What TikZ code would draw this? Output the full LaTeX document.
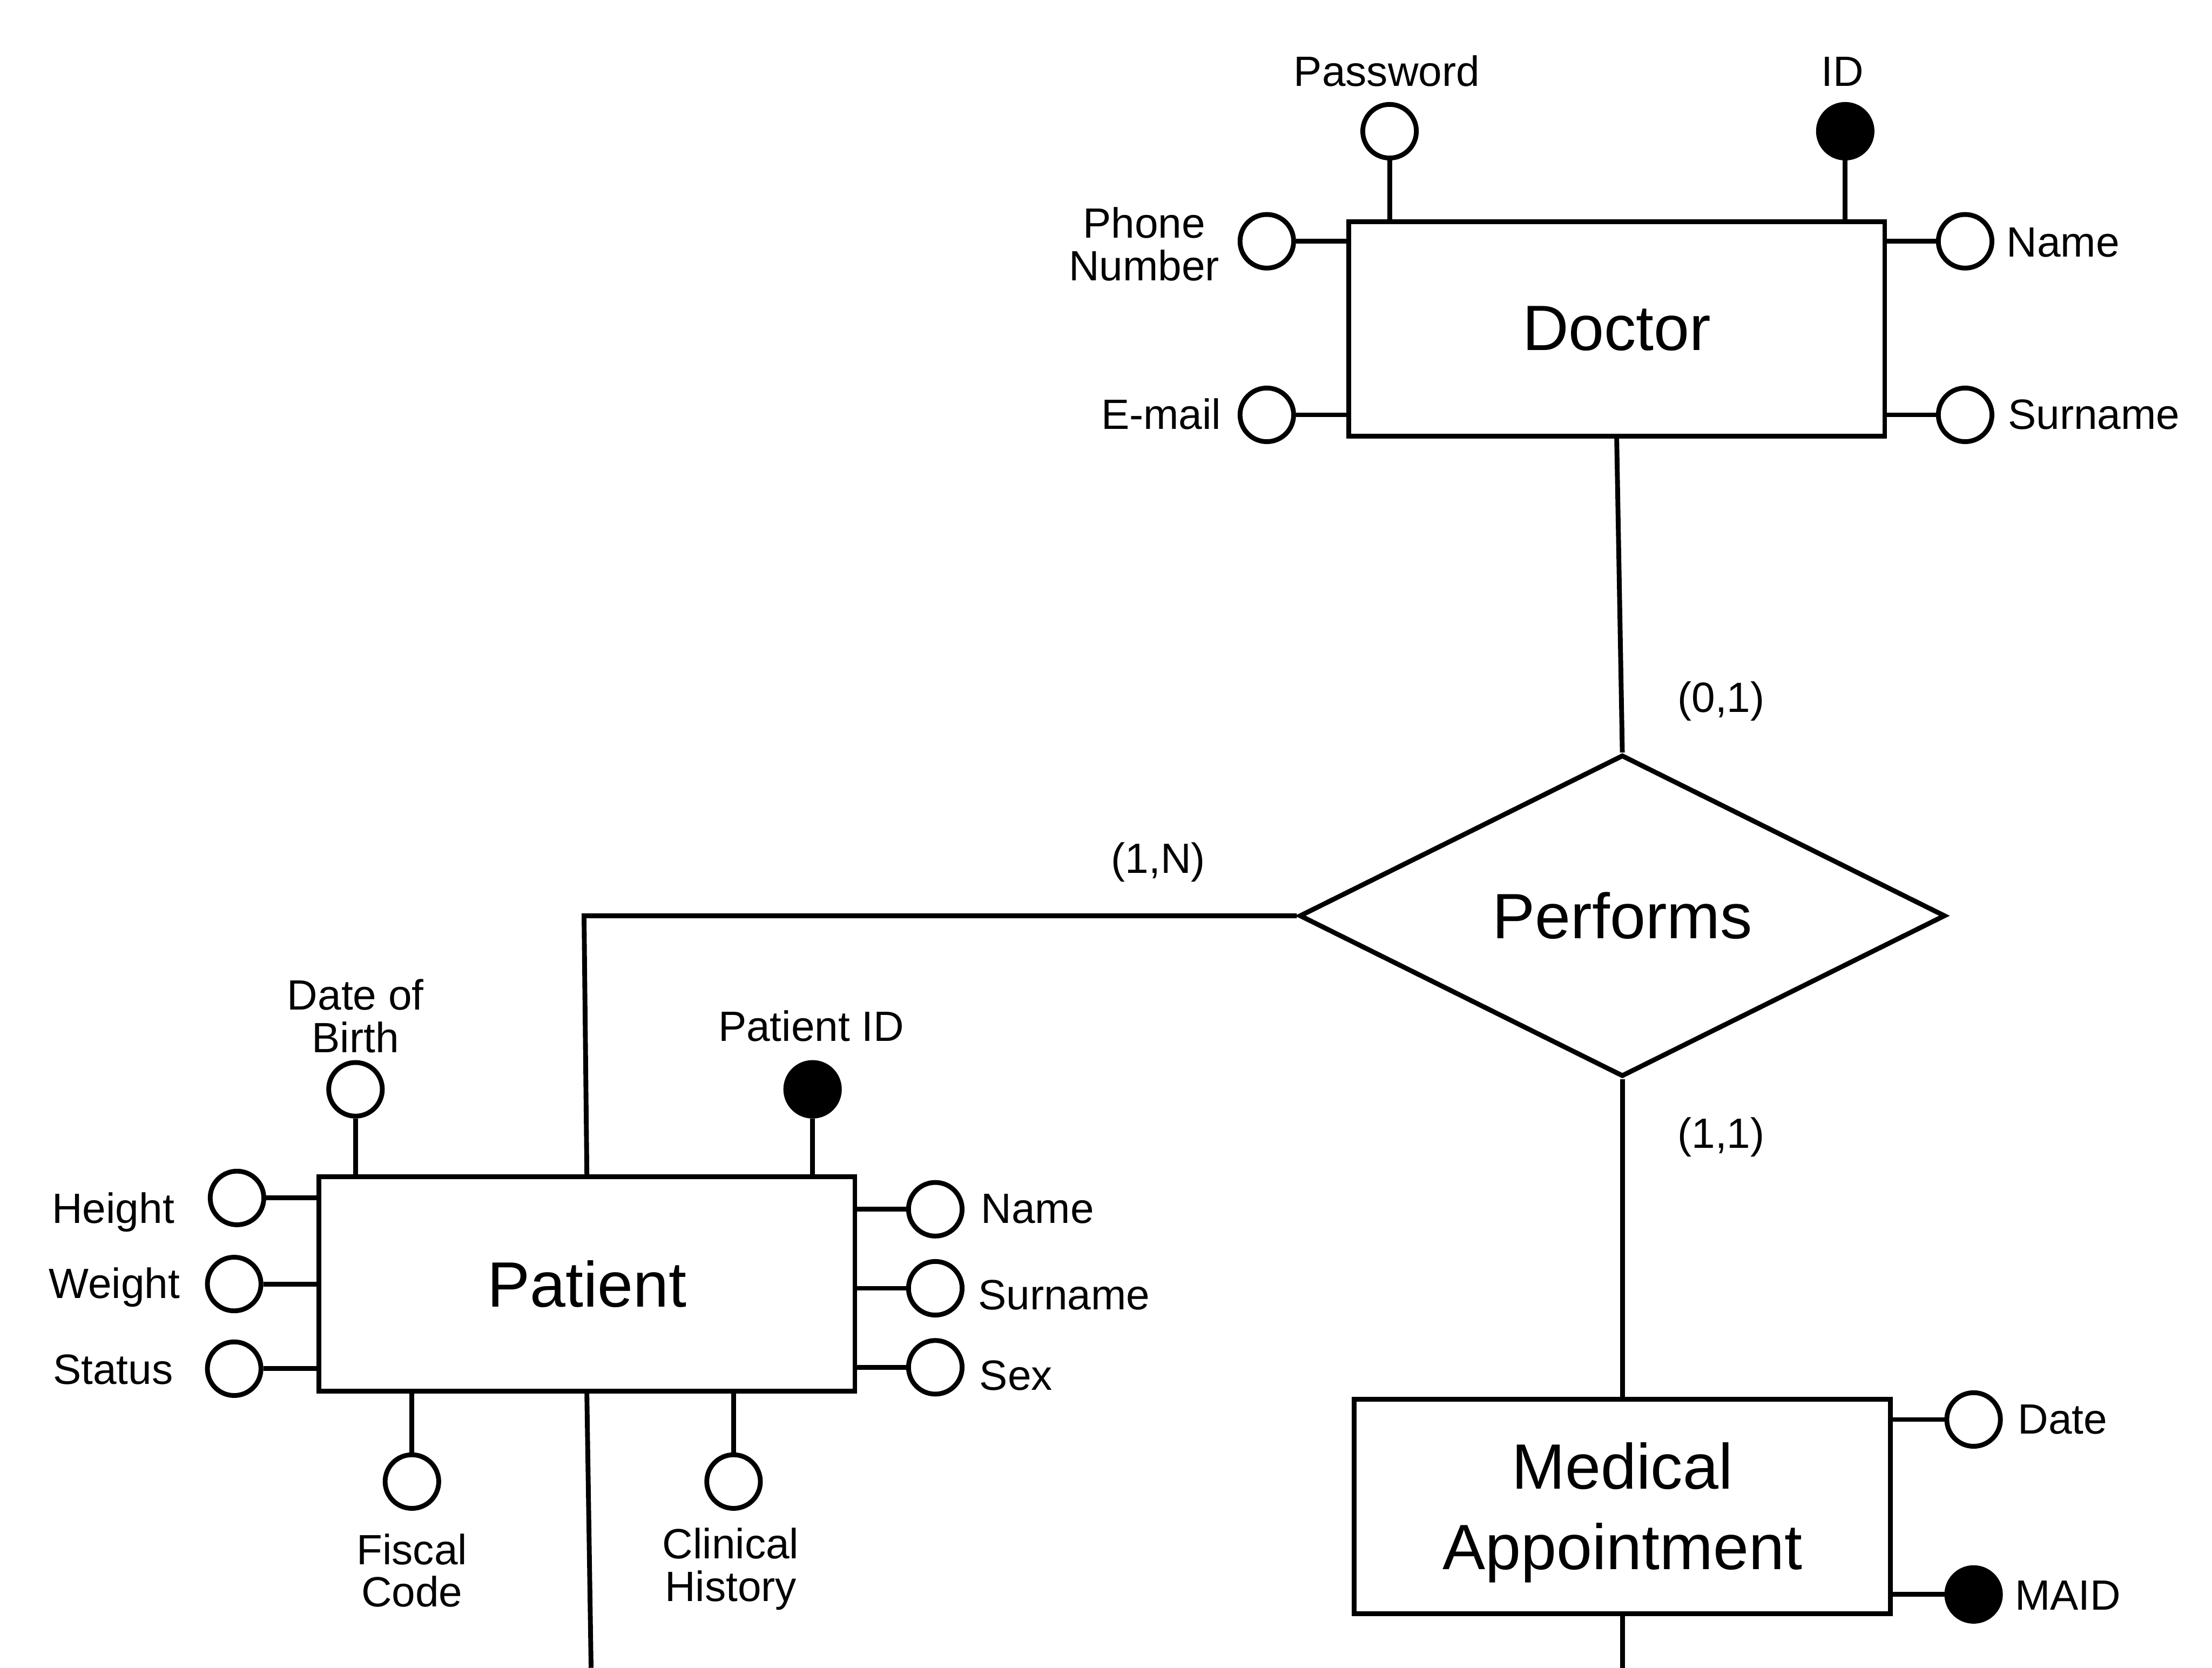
\documentclass[tikz,border=0pt]{standalone}
\usepackage{fontspec}
\setmainfont{Liberation Sans}
\usetikzlibrary{shapes.geometric}
\tikzset{
  ln/.style={line width=1.7pt, black},
  entity/.style={draw, ln, rectangle, minimum width=190pt, minimum height=76pt, inner sep=0pt},
  bigtext/.style={font=\fontsize{22.7pt}{28.6pt}\selectfont, inner sep=0pt, align=center},
  rel/.style={draw, ln, diamond, minimum width=229pt, minimum height=114pt, inner sep=0pt,
    font=\fontsize{22.7pt}{28.6pt}\selectfont},
  attr/.style={draw, ln, circle, minimum size=19pt, inner sep=0pt, fill=white},
  keyattr/.style={draw, ln, circle, minimum size=19pt, inner sep=0pt, fill=black},
  lbl/.style={font=\fontsize{15pt}{15pt}\selectfont, inner sep=0pt, align=center},
}
\begin{document}
\begin{tikzpicture}[x=0.5pt, y=-0.5pt]
\useasboundingbox (0,0) rectangle (1568,1182);

% entities and relationship
\node[entity] (doc) at (1146,233) {};
\node[bigtext] (doct) at (doc.center) {Doctor};
\node[rel] (perf) at (1150,649) {Performs};
\node[entity] (pat) at (416,910) {};
\node[bigtext] (patt) at (pat.center) {Patient};
\node[entity] (ma) at (1150,1067.5) {};
\node[bigtext] (mat) at (1150,1072) {Medical\\Appointment};

% Doctor attributes
\node[attr] (dpw) at (985,93) {};
\node[keyattr] (did) at (1308,93) {};
\node[attr] (dph) at (898,171) {};
\node[attr] (dem) at (898,294) {};
\node[attr] (dnm) at (1393,171) {};
\node[attr] (dsn) at (1393,294) {};
\draw[ln] (dpw) -- (dpw |- doc.north);
\draw[ln] (did) -- (did |- doc.north);
\draw[ln] (dph) -- (dph -| doc.west);
\draw[ln] (dem) -- (dem -| doc.west);
\draw[ln] (dnm) -- (dnm -| doc.east);
\draw[ln] (dsn) -- (dsn -| doc.east);
\node[lbl, anchor=base] (ldpw) at (983,61) {Password};
\node[lbl, anchor=base] (ldid) at (1306,61) {ID};
\node[lbl] (ldph) at (811,173) {Phone\\Number};
\node[lbl, anchor=base east] (ldem) at (866,304) {E-mail};
\node[lbl, anchor=base west] (ldnm) at (1422,182) {Name};
\node[lbl, anchor=base west] (ldsn) at (1423,304) {Surname};

% Patient attributes
\node[attr] (pdob) at (252,772) {};
\node[keyattr] (ppid) at (576,772) {};
\node[attr] (phei) at (168,849) {};
\node[attr] (pwei) at (166,910) {};
\node[attr] (psta) at (166,970) {};
\node[attr] (pnm) at (663,857) {};
\node[attr] (psn) at (663,913) {};
\node[attr] (psex) at (663,969) {};
\node[attr] (pfc) at (292,1050) {};
\node[attr] (pch) at (520,1050) {};
\draw[ln] (pdob) -- (pdob |- pat.north);
\draw[ln] (ppid) -- (ppid |- pat.north);
\draw[ln] (phei) -- (phei -| pat.west);
\draw[ln] (pwei) -- (pwei -| pat.west);
\draw[ln] (psta) -- (psta -| pat.west);
\draw[ln] (pnm) -- (pnm -| pat.east);
\draw[ln] (psn) -- (psn -| pat.east);
\draw[ln] (psex) -- (psex -| pat.east);
\draw[ln] (pfc) -- (pfc |- pat.south);
\draw[ln] (pch) -- (pch |- pat.south);
\node[lbl] (lpdob) at (252,720) {Date of\\Birth};
\node[lbl, anchor=base] (lppid) at (575,738) {Patient ID};
\node[lbl, anchor=base east] (lphei) at (124,867) {Height};
\node[lbl, anchor=base east] (lpwei) at (128,920) {Weight};
\node[lbl, anchor=base east] (lpsta) at (123,981) {Status};
\node[lbl, anchor=base west] (lpnm) at (695,867) {Name};
\node[lbl, anchor=base west] (lpsn) at (693,928) {Surname};
\node[lbl, anchor=base west] (lpsex) at (694,985) {Sex};
\node[lbl] (lpfc) at (292,1113) {Fiscal\\Code};
\node[lbl] (lpch) at (518,1112) {Clinical\\History};

% Medical Appointment attributes
\node[attr] (mdate) at (1399,1006) {};
\node[keyattr] (mid) at (1399,1130) {};
\draw[ln] (mdate) -- (mdate -| ma.east);
\draw[ln] (mid) -- (mid -| ma.east);
\node[lbl, anchor=base west] (lmdate) at (1430,1016) {Date};
\node[lbl, anchor=base west] (lmid) at (1428,1141) {MAID};

% relationship connectors
\coordinate (patend) at (419,1182);
\coordinate (maend) at (1150,1182);
\coordinate (bend) at (414,649);
\draw[ln] (doc.south) -- (perf.north);
\draw[ln] (perf.west) -- (bend) -- (pat.north);
\draw[ln] (perf.south) -- (ma.north);
\draw[ln] (pat.south) -- (patend);
\draw[ln] (ma.south) -- (maend);

% cardinalities
\node[lbl] (c01) at (1220,497) {(0,1)};
\node[lbl] (c1n) at (821,611) {(1,N)};
\node[lbl] (c11) at (1220,806) {(1,1)};
\end{tikzpicture}
\end{document}
